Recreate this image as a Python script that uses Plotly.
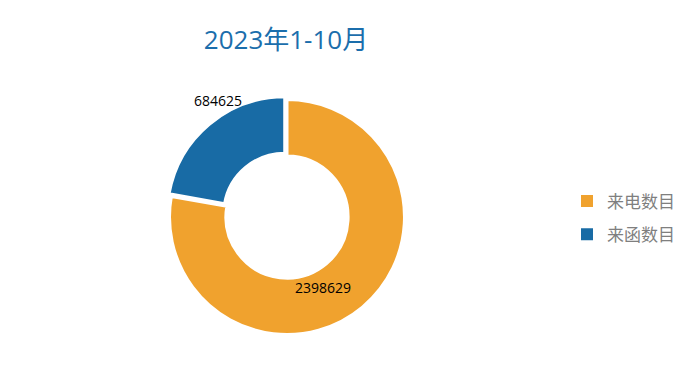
import plotly.graph_objects as go

labels = ["来电数目", "来函数目"]
values = [2398629, 684625]
colors = ["#F0A22E", "#186BA5"]
title_text = "2023年1-10月"

W, H = 689, 375
cx, cy, half = 287, 217, 121

fig = go.Figure(go.Pie(
    labels=labels,
    values=values,
    sort=False,
    direction="clockwise",
    rotation=0,
    hole=0.52,
    pull=[0, 0.03],
    marker=dict(colors=colors, line=dict(color="white", width=3)),
    textinfo="none",
    showlegend=False,
    domain=dict(x=[(cx - half) / W, (cx + half) / W],
                y=[(H - cy - half) / H, (H - cy + half) / H]),
))

# legend entries (separate groups for spacing)
for i, (lab, col) in enumerate(zip(labels, colors)):
    fig.add_trace(go.Scatter(
        x=[None], y=[None], mode="markers", name=lab,
        marker=dict(symbol="square", size=7, color=col),
        legendgroup=f"g{i}", showlegend=True,
    ))

# value labels
label_pos = [(323, 287), (218, 101)]
for v, (px, py) in zip(values, label_pos):
    fig.add_annotation(text=f"{v:d}", x=px / W, y=1 - py / H, xref="paper", yref="paper",
                       showarrow=False, xanchor="center", yanchor="middle",
                       font=dict(size=14, color="black", family="Open Sans, Noto Sans CJK SC"))

fig.update_layout(
    width=W, height=H,
    margin=dict(l=0, r=0, t=0, b=0),
    paper_bgcolor="white",
    plot_bgcolor="white",
    xaxis=dict(visible=False),
    yaxis=dict(visible=False),
    font=dict(family="Noto Sans CJK SC, Open Sans"),
    title=dict(text=title_text, x=286 / W, xanchor="center", y=1 - 40 / H, yanchor="middle",
               font=dict(size=26, color="#1B6EAC", family="Open Sans, Noto Sans CJK SC")),
    legend=dict(x=567 / W, xanchor="left", y=1 - 218 / H, yanchor="middle",
                font=dict(size=17, color="#7F7F7F", family="Noto Sans CJK SC"),
                itemsizing="constant", tracegroupgap=8, itemwidth=30),
)

fig.write_html("out.html")
